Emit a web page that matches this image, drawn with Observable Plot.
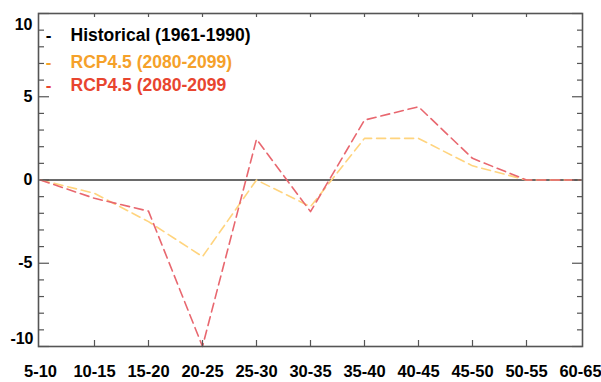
<!DOCTYPE html>
<html><head><meta charset="utf-8">
<script src="https://cdn.jsdelivr.net/npm/d3@7"></script>
<script src="https://cdn.jsdelivr.net/npm/@observablehq/plot@0.6"></script>
<style>body{margin:0;background:#fff} #chart{width:601px;height:382px}</style>
</head><body><div id="chart"></div>
<script>
// ---- data ----
const categories = ["5-10","10-15","15-20","20-25","25-30","30-35","35-40","40-45","45-50","50-55","60-65"];
const historical = [0,0,0,0,0,0,0,0,0,0,0];
const rcpOrange  = [0,-0.8,-2.5,-4.6,0,-1.6,2.5,2.5,0.85,0,0];
const rcpRed     = [0,-1.1,-1.87,-10,2.45,-1.9,3.6,4.4,1.3,0,0];
const yMajorTicks = [-10,-5,0,5,10];
const yMinorTicks = [-9,-8,-7,-6,-4,-3,-2,-1,1,2,3,4,6,7,8,9];
const legendLabels = ["Historical (1961-1990)","RCP4.5 (2080-2099)","RCP4.5 (2080-2099"];

// ---- styles ----
const histColor = "#6a6a6a", orangeLine = "#FFD47E", redLine = "#E8676F";
const legendColors = ["#000000", "#F5A12A", "#E8452F"];
const axisColor = "#555";
const font = "'Liberation Sans', Arial, Helvetica, sans-serif";

const W = 601, H = 382, mL = 38, mR = 19, mT = 13, mB = 36;
const fW = W - mL - mR, fH = H - mT - mB;

const toRows = (vals) => categories.map((c, i) => ({cat: c, value: vals[i]}));

const legendRowDy = [22, 49, 72];
const legendMarks = legendLabels.flatMap((lab, i) => [
  Plot.text([lab], {text: d => d, frameAnchor: "top-left", dx: 32, dy: legendRowDy[i], lineAnchor: "middle", textAnchor: "start", fill: legendColors[i], fontSize: 17.5, fontWeight: "bold", ariaLabel: "legend"}),
  Plot.text(["-"], {text: d => d, frameAnchor: "top-left", dx: 10, dy: legendRowDy[i], lineAnchor: "middle", textAnchor: "middle", fill: legendColors[i], fontSize: 17, fontWeight: "bold"})
]);

const chart = Plot.plot({
  width: W, height: H,
  marginLeft: mL, marginRight: mR, marginTop: mT, marginBottom: mB,
  style: {fontFamily: font, background: "#fff", color: "#000"},
  x: {type: "point", domain: categories, padding: 0, axis: null},
  y: {domain: [-10, 10], axis: null},
  marks: [
    Plot.line(toRows(historical), {x: "cat", y: "value", stroke: histColor, strokeWidth: 2}),
    Plot.line(toRows(rcpOrange), {x: "cat", y: "value", stroke: orangeLine, strokeWidth: 1.6, strokeDasharray: "9,5"}),
    Plot.line(toRows(rcpRed), {x: "cat", y: "value", stroke: redLine, strokeWidth: 1.6, strokeDasharray: "9,5"}),
    Plot.frame({stroke: axisColor, strokeWidth: 1.6}),
    // left ticks (inward)
    Plot.tickY(yMinorTicks, {y: d => d, insetRight: fW - 6, stroke: axisColor, strokeWidth: 1.2}),
    Plot.tickY(yMajorTicks, {y: d => d, insetRight: fW - 11, stroke: axisColor, strokeWidth: 1.2}),
    // right ticks (inward)
    Plot.tickY(yMinorTicks, {y: d => d, insetLeft: fW - 5, stroke: axisColor, strokeWidth: 1.2}),
    Plot.tickY(yMajorTicks, {y: d => d, insetLeft: fW - 10, stroke: axisColor, strokeWidth: 1.2}),
    // top / bottom ticks
    Plot.tickX(categories.slice(1, -1), {x: d => d, insetBottom: fH - 4, stroke: axisColor, strokeWidth: 1.2}),
    Plot.tickX(categories.slice(1, -1), {x: d => d, insetTop: fH - 6, stroke: axisColor, strokeWidth: 1.2}),
    // y labels
    Plot.text(yMajorTicks.filter(v => Math.abs(v) < 10), {y: d => d, text: d => String(d), frameAnchor: "left", textAnchor: "end", dx: -6, fontSize: 16, fontWeight: "bold", ariaLabel: "ylab"}),
    Plot.text([10], {y: d => d, text: d => String(d), frameAnchor: "left", textAnchor: "end", dx: -6, dy: 11, fontSize: 16, fontWeight: "bold", ariaLabel: "ylab"}),
    Plot.text([-10], {y: d => d, text: d => String(d), frameAnchor: "left", textAnchor: "end", dx: -5, dy: -8, fontSize: 16, fontWeight: "bold", ariaLabel: "ylab"}),
    // x labels
    Plot.text(categories, {x: d => d, text: d => d, frameAnchor: "bottom", lineAnchor: "top", dy: 19, fontSize: 16.5, fontWeight: "bold", ariaLabel: "xlab"}),
    ...legendMarks
  ]
});
d3.select(chart).selectAll("g[aria-label='xlab'] text").attr("letter-spacing", "-1.1");
d3.select(chart).selectAll("g[aria-label='ylab'] text").attr("letter-spacing", "-0.4");
document.getElementById("chart").appendChild(chart);
</script>
</body></html>
